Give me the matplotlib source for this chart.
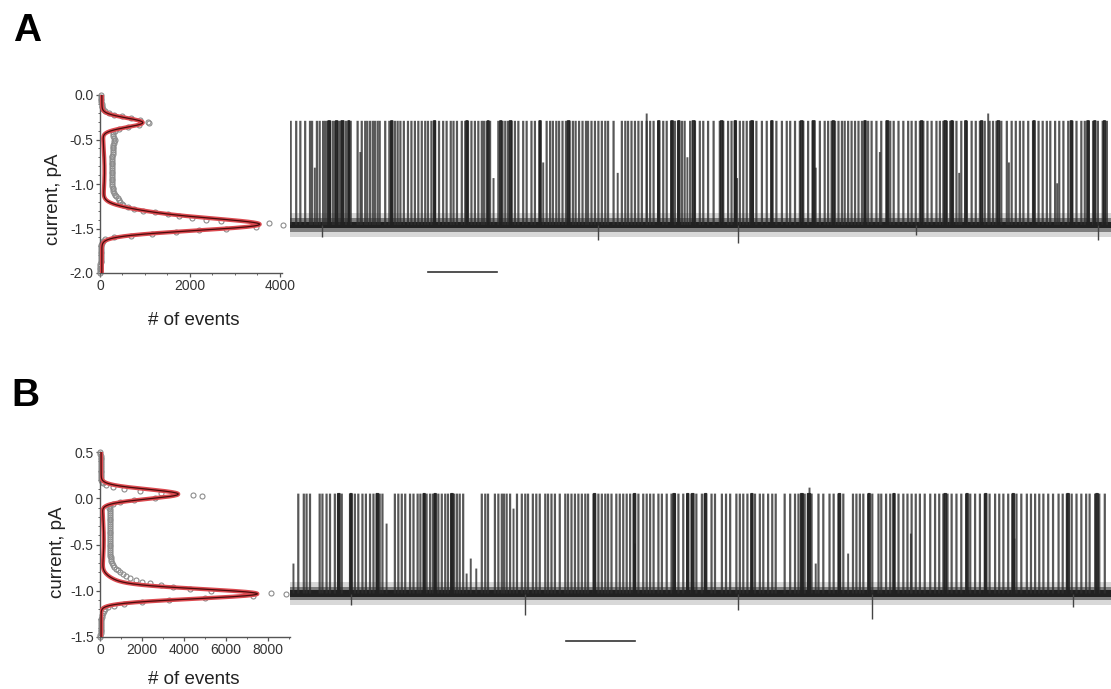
import numpy as np
import matplotlib
matplotlib.use("Agg")
import matplotlib.pyplot as plt
from matplotlib.ticker import MultipleLocator

plt.rcParams['font.family'] = ['Liberation Sans', 'DejaVu Sans']

# ---------------- Panel A ----------------
# all-points amplitude histogram, 0.02 pA bins starting at 0.00 pA and going down
hist_a_top = 0.0
hist_a_counts = [
    20, 25, 25, 30, 30, 35, 40, 50, 70, 110, 190, 320, 500, 700, 900, 1060,
    1100, 870, 620, 430, 330, 290, 280,
    300, 320, 330, 320, 310, 300, 290, 290, 285, 280, 280, 275, 270, 270,
    265, 265, 260, 260, 260, 260, 258, 258, 260, 260, 262, 265, 268, 270,
    275, 280, 290, 300, 315, 335, 360, 390, 420, 450,
    480, 520, 620, 760, 960, 1230, 1520, 1750, 2050, 2360, 2700, 3750, 4080,
    3480, 2800, 2200, 1700, 1150, 700, 320, 120, 60, 40,
    30, 30, 25, 25, 20, 20, 20, 15, 15, 15, 15, 10, 10, 10, 10, 10, 10,
]
# multi-Gaussian fit: constant offset + components (mean pA, amplitude, sigma pA)
fit_a_offset = 40
fit_a_means = [-0.31, -1.46, -1.34, -0.85]
fit_a_amps = [900, 3280, 900, 60]
fit_a_sigmas = [0.052, 0.065, 0.07, 0.30]

# single-channel record (time in s, current in pA)
closed_a, open_a = -1.46, -0.29
noise_a = 0.055
open_a_t = [
    0.01, 0.09, 0.15, 0.22, 0.29, 0.32, 0.39, 0.43, 0.48, 0.51, 0.54, 0.58,
    0.62, 0.65, 0.69, 0.72, 0.76, 0.81, 0.85, 0.88, 0.98, 1.04, 1.09, 1.12,
    1.16, 1.20, 1.23, 1.27, 1.30, 1.38, 1.44, 1.47, 1.52, 1.56, 1.60, 1.65,
    1.71, 1.76, 1.81, 1.86, 1.91, 1.96, 2.00, 2.05, 2.10, 2.16, 2.22, 2.27,
    2.33, 2.37, 2.42, 2.49, 2.54, 2.58, 2.63, 2.68, 2.73, 2.78, 2.81, 2.85,
    2.90, 3.02, 3.08, 3.12, 3.16, 3.21, 3.26, 3.31, 3.38, 3.43, 3.50, 3.55,
    3.62, 3.72, 3.77, 3.81, 3.86, 3.90, 3.95, 4.00, 4.05, 4.10, 4.14, 4.19,
    4.24, 4.29, 4.32, 4.37, 4.42, 4.47, 4.52, 4.57, 4.61, 4.69, 4.81, 4.86,
    4.90, 4.95, 5.00, 5.05, 5.10, 5.17, 5.22, 5.27, 5.34, 5.41, 5.46, 5.53,
    5.58, 5.63, 5.68, 5.72, 5.80, 5.87, 5.94, 5.99, 6.06, 6.14, 6.23, 6.28,
    6.35, 6.40, 6.45, 6.52, 6.57, 6.62, 6.67, 6.71, 6.76, 6.84, 6.91, 6.98,
    7.05, 7.13, 7.20, 7.25, 7.32, 7.39, 7.44, 7.51, 7.58, 7.68, 7.75, 7.80,
    7.85, 7.90, 7.95, 8.00, 8.04, 8.09, 8.14, 8.19, 8.24, 8.29, 8.33, 8.38,
    8.43, 8.50, 8.57, 8.65, 8.70, 8.75, 8.82, 8.89, 8.96, 9.01, 9.07, 9.13,
    9.18, 9.24, 9.30, 9.37, 9.42, 9.47, 9.52, 9.57, 9.61, 9.66, 9.73, 9.81,
    9.88, 9.94, 10.00, 10.07, 10.14, 10.19, 10.24, 10.31, 10.39, 10.46,
    10.52, 10.58, 10.63, 10.70, 10.77, 10.85, 10.91, 10.97, 11.02, 11.09,
    11.15, 11.21, 11.28, 11.34, 11.40, 11.47, 11.52, 11.57, 11.64, 11.71,
    11.78, 11.84,
]
long_a_t = [0.55, 0.66, 0.74, 0.84, 1.46, 2.08, 2.55, 2.86, 3.04, 3.18, 3.61,
            4.02, 5.33, 5.52, 5.62, 5.83, 6.24, 6.44, 6.68, 6.97, 7.40, 7.57,
            7.86, 8.32, 8.64, 9.14, 9.48, 9.58, 9.78, 10.01, 10.25, 10.77,
            11.31, 11.55, 11.65, 11.79]
long_a_ms = [35, 30, 40, 25, 30, 30, 30, 25, 30, 35, 30,
             35, 30, 35, 30, 40, 35, 30, 35, 30, 35, 40,
             30, 30, 35, 30, 35, 30, 30, 30, 35, 30,
             30, 35, 30, 30]
partial_a_t = [0.36, 1.02, 2.95, 3.67, 4.75, 5.17, 5.76, 6.48, 7.62, 8.55,
               9.70, 10.12, 10.42, 11.12]
partial_a_h = [0.55, 0.70, 0.45, 0.60, 0.50, 1.07, 0.65, 0.45, 0.55, 0.70,
               0.50, 1.07, 0.60, 0.40]
glitch_a_t = [0.46, 4.47, 6.50, 9.08, 11.71]
glitch_a_i = [-1.60, -1.63, -1.66, -1.57, -1.63]
scale_a_start, scale_len_s = 2.0, 1.0

# ---------------- Panel B ----------------
hist_b_top = 0.5
hist_b_counts = [
    20, 20, 25, 25, 25, 30, 30, 30, 35, 35, 40, 40, 45, 50, 55, 65, 90, 150,
    300, 600, 1150, 1900, 2900, 4450, 4850, 2600, 1600, 950, 620, 480, 450, 460,
    470, 480, 480, 490, 490, 485, 480, 480, 475, 470, 470, 465, 465, 460, 460,
    460, 455, 455, 455, 460, 460, 465, 470, 480, 490, 505, 520, 545, 580, 620,
    680, 750, 840, 950, 1080, 1250, 1450, 1700, 2000, 2400, 2900, 3500, 4300,
    5300, 8150, 8850, 7300, 5000, 3300, 2000, 1150, 650, 380, 250, 180, 130,
    100, 80, 60, 50, 45, 40, 35, 30, 30, 25, 25, 20, 20,
]
fit_b_offset = 50
fit_b_means = [0.045, -1.035, -0.93, -0.45]
fit_b_amps = [3650, 7200, 700, 130]
fit_b_sigmas = [0.052, 0.052, 0.07, 0.28]

closed_b, open_b = -1.03, 0.05
noise_b = 0.05
open_b_t = [
    0.12, 0.20, 0.24, 0.29, 0.43, 0.47, 0.53, 0.58, 0.65, 0.70, 0.75, 0.87,
    0.89, 0.94, 0.99, 1.05, 1.10, 1.16, 1.21, 1.26, 1.30, 1.34, 1.52, 1.57,
    1.62, 1.67, 1.74, 1.79, 1.85, 1.89, 1.94, 1.98, 2.03, 2.07, 2.10, 2.15,
    2.20, 2.25, 2.29, 2.34, 2.38, 2.42, 2.46, 2.51, 2.78, 2.83, 2.87, 2.97,
    3.02, 3.07, 3.10, 3.14, 3.19, 3.29, 3.36, 3.41, 3.45, 3.52, 3.57, 3.62,
    3.70, 3.74, 3.79, 3.84, 3.91, 3.99, 4.03, 4.08, 4.13, 4.18, 4.23, 4.28,
    4.32, 4.40, 4.47, 4.52, 4.57, 4.61, 4.66, 4.73, 4.78, 4.83, 4.88, 4.93,
    4.98, 5.05, 5.12, 5.17, 5.22, 5.27, 5.34, 5.39, 5.46, 5.53, 5.58, 5.63,
    5.70, 5.76, 5.82, 5.89, 5.97, 6.01, 6.11, 6.16, 6.26, 6.32, 6.38, 6.47,
    6.52, 6.57, 6.63, 6.69, 6.74, 6.81, 6.86, 6.93, 6.99, 7.04, 7.17, 7.25,
    7.32, 7.37, 7.42, 7.46, 7.51, 7.56, 7.66, 7.73, 7.82, 7.88, 7.95, 8.02,
    8.16, 8.21, 8.26, 8.31, 8.38, 8.44, 8.53, 8.57, 8.64, 8.70, 8.75, 8.82,
    8.89, 8.95, 9.01, 9.07, 9.13, 9.20, 9.28, 9.35, 9.41, 9.47, 9.53, 9.59,
    9.66, 9.73, 9.80, 9.86, 9.93, 10.00, 10.07, 10.14, 10.22, 10.28, 10.34,
    10.41, 10.47, 10.53, 10.60, 10.68, 10.74, 10.80, 10.86, 10.92, 10.99,
    11.06, 11.14, 11.20, 11.26, 11.33, 11.40, 11.47, 11.54, 11.59, 11.67,
    11.73, 11.81,
]
long_b_t = [0.69, 0.87, 1.25, 1.93, 2.09, 2.33, 4.40, 4.98, 5.55, 5.75, 5.82,
            6.01, 6.68, 7.40, 7.50, 7.95, 8.38, 8.74, 9.48, 9.80, 10.07,
            10.47, 11.26, 11.68]
long_b_ms = [35, 30, 35, 30, 30, 35, 30, 30, 35, 30, 35,
             30, 30, 40, 45, 30, 30, 30, 35, 30, 30,
             30, 35, 35]
partial_b_t = [0.05, 1.40, 2.56, 2.62, 2.70, 3.24, 5.00, 7.53, 7.62, 8.09,
               9.00, 10.50]
partial_b_h = [0.30, 0.70, 0.20, 0.35, 0.25, 0.85, 0.50, 1.06, 0.30, 0.40,
               0.60, 0.55]
glitch_b_t = [0.89, 3.41, 6.50, 8.43, 11.35]
glitch_b_i = [-1.15, -1.26, -1.21, -1.30, -1.18]
scale_b_start = 4.0

T_END = 11.9

W, H = 1111, 689
fig = plt.figure(figsize=(W / 100, H / 100), dpi=100)


def fig_rect(x0, y0, x1, y1):
    return [x0 / W, 1 - y1 / H, (x1 - x0) / W, (y1 - y0) / H]


def fit_curve(y, offset, means, amps, sigmas):
    out = np.full_like(y, float(offset))
    for m, a, s in zip(means, amps, sigmas):
        out += a * np.exp(-0.5 * ((y - m) / s) ** 2)
    return out


def draw_hist(ax, top, counts, offset, means, amps, sigmas, ylim, xlim,
              xmajor, xminor):
    bins = top - 0.02 * np.arange(len(counts))
    ax.plot(counts, bins, 'o', ms=3.6, mfc='none', mec='#8c8c8c', mew=0.8,
            zorder=2, clip_on=False)
    yy = np.linspace(ylim[0], ylim[1], 800)
    xx = fit_curve(yy, offset, means, amps, sigmas)
    ax.plot(xx, yy, color='#dc4a50', lw=3.0, zorder=3, solid_capstyle='butt')
    ax.plot(xx, yy, color='#4a0c0c', lw=0.9, zorder=4)
    ax.set_ylim(*ylim)
    ax.set_xlim(*xlim)
    ax.yaxis.set_major_locator(MultipleLocator(0.5))
    ax.yaxis.set_minor_locator(MultipleLocator(0.1))
    ax.xaxis.set_major_locator(MultipleLocator(xmajor))
    ax.xaxis.set_minor_locator(MultipleLocator(xminor))
    ax.yaxis.set_major_formatter(plt.FuncFormatter(lambda v, p: f"{v:.1f}"))
    ax.xaxis.set_major_formatter(plt.FuncFormatter(lambda v, p: f"{v:.0f}"))
    for s in ('top', 'right'):
        ax.spines[s].set_visible(False)
    for s in ('left', 'bottom'):
        ax.spines[s].set_color('#555555')
        ax.spines[s].set_linewidth(1.0)
    ax.tick_params(which='major', length=3, width=0.9, color='#555555',
                   labelsize=10, labelcolor='#333333', pad=1.5)
    ax.tick_params(which='minor', length=1.6, width=0.7, color='#666666')
    ax.patch.set_alpha(0)


def draw_trace(ax, closed, opened, noise, opens, longs_t, longs_ms, part_t,
               part_h, gl_t, gl_i, ylim, bar_start, bar_y):
    amp = opened - closed
    # closed-level noise envelope (about +-2.5 rms)
    for k, a in ((2.5, 0.16), (1.5, 0.45), (0.7, 0.85)):
        ax.fill_between([0, T_END], closed - k * noise, closed + k * noise,
                        color='#111111', alpha=a, lw=0, zorder=1)
    line_kw = dict(color='#2e2e2e', alpha=0.8, zorder=3, snap=False)
    # brief openings
    ax.vlines(opens, closed, opened, lw=1.6, **line_kw)
    ax.vlines(part_t, closed, closed + amp * np.array(part_h), lw=1.4,
              **line_kw)
    # longer openings
    ax.bar(longs_t, amp, width=np.array(longs_ms) / 1000, bottom=closed,
           align='edge', color='#222222', edgecolor='#222222', linewidth=1.0,
           alpha=0.9, zorder=3, snap=False)
    ax.vlines(gl_t, closed, gl_i, color='#444444', lw=1.0, zorder=3)
    ax.plot([bar_start, bar_start + scale_len_s], [bar_y, bar_y],
            color='#333333', lw=1.2, clip_on=False)
    ax.set_xlim(0, T_END)
    ax.set_ylim(*ylim)
    ax.axis('off')


# Panel A
ax_ha = fig.add_axes(fig_rect(100, 95, 282, 273))
draw_hist(ax_ha, hist_a_top, hist_a_counts, fit_a_offset, fit_a_means,
          fit_a_amps, fit_a_sigmas, (-2.0, 0.0), (0, 4050), 2000, 500)
ax_ta = fig.add_axes(fig_rect(290, 95, 1111, 273))
draw_trace(ax_ta, closed_a, open_a, noise_a, open_a_t, long_a_t, long_a_ms,
           partial_a_t, partial_a_h, glitch_a_t, glitch_a_i, (-2.0, 0.0),
           scale_a_start, -1.99)

# Panel B
ax_hb = fig.add_axes(fig_rect(100, 452, 290, 637))
draw_hist(ax_hb, hist_b_top, hist_b_counts, fit_b_offset, fit_b_means,
          fit_b_amps, fit_b_sigmas, (-1.5, 0.5), (0, 9050), 2000, 1000)
ax_tb = fig.add_axes(fig_rect(290, 452, 1111, 637))
draw_trace(ax_tb, closed_b, open_b, noise_b, open_b_t, long_b_t, long_b_ms,
           partial_b_t, partial_b_h, glitch_b_t, glitch_b_i, (-1.5, 0.5),
           scale_b_start, -1.545)

# labels
lab = dict(fontsize=13.5, color='#222222', ha='center', va='center')
fig.text(54 / W, 1 - 199 / H, 'current, pA', rotation=90, **lab)
fig.text(194 / W, 1 - 320 / H, '# of events', **lab)
fig.text(57 / W, 1 - 552 / H, 'current, pA', rotation=90, **lab)
fig.text(194 / W, 1 - 679 / H, '# of events', **lab)
fig.text(27 / W, 1 - 31 / H, 'A', fontsize=28, fontweight='bold',
         ha='center', va='center')
fig.text(25 / W, 1 - 396 / H, 'B', fontsize=28, fontweight='bold',
         ha='center', va='center')

fig.savefig('out.png', dpi=100, facecolor='white')
